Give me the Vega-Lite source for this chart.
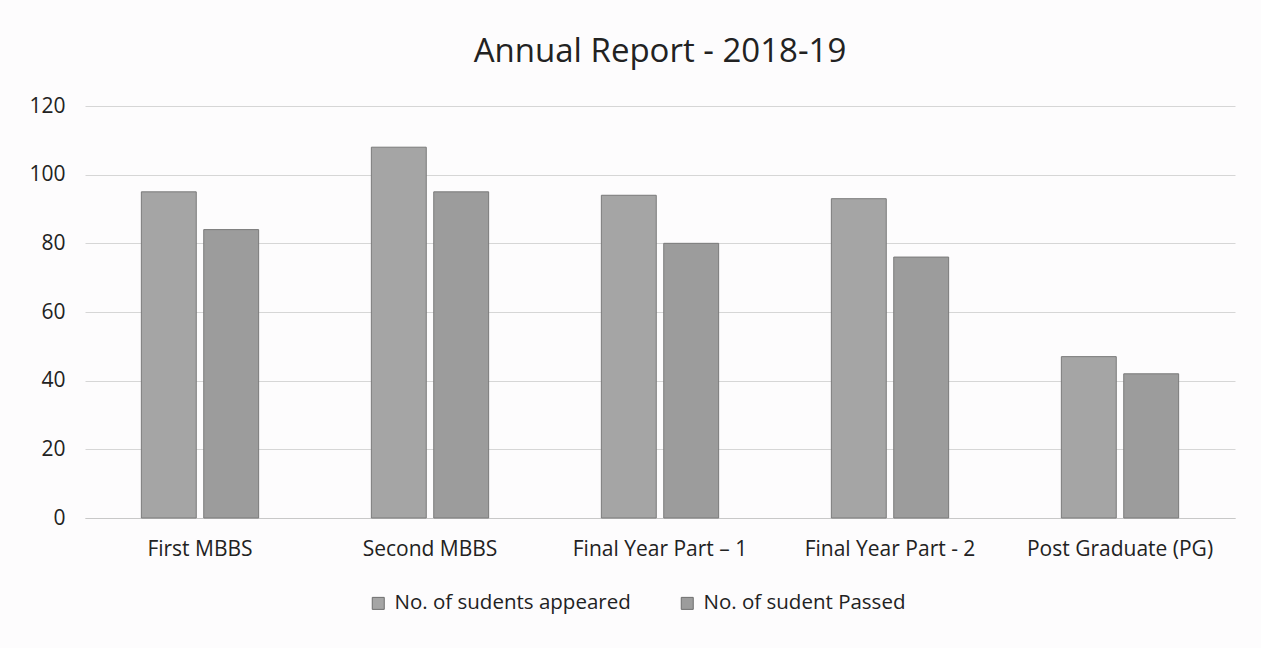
{
  "$schema": "https://vega.github.io/schema/vega-lite/v6.json",
  "width": 1150,
  "height": 412,
  "autosize": {"type": "none"},
  "padding": {"left": 85, "top": 106, "right": 26, "bottom": 130},
  "background": "#fdfcfd",
  "title": {"text": "Annual Report - 2018-19", "font": "Open Sans", "fontSize": 33, "fontWeight": "normal", "color": "#222222", "offset": 26},
  "data": {
    "values": [
      {"course": "First MBBS", "series": "No. of sudents appeared", "value": 95},
      {"course": "First MBBS", "series": "No. of sudent Passed", "value": 84},
      {"course": "Second MBBS", "series": "No. of sudents appeared", "value": 108},
      {"course": "Second MBBS", "series": "No. of sudent Passed", "value": 95},
      {"course": "Final Year Part – 1", "series": "No. of sudents appeared", "value": 94},
      {"course": "Final Year Part – 1", "series": "No. of sudent Passed", "value": 80},
      {"course": "Final Year Part - 2", "series": "No. of sudents appeared", "value": 93},
      {"course": "Final Year Part - 2", "series": "No. of sudent Passed", "value": 76},
      {"course": "Post Graduate (PG)", "series": "No. of sudents appeared", "value": 47},
      {"course": "Post Graduate (PG)", "series": "No. of sudent Passed", "value": 42}
    ]
  },
  "mark": {"type": "bar", "stroke": "#7a7a7a", "strokeWidth": 1},
  "encoding": {
    "x": {
      "field": "course", "type": "nominal", "sort": null,
      "scale": {"paddingInner": 0.49, "paddingOuter": 0.245},
      "axis": {"title": null, "labelAngle": 0, "labelFont": "Open Sans", "labelFontSize": 21, "labelColor": "#222222", "ticks": false, "domainColor": "#c8c8c8", "labelPadding": 20, "labelLimit": 0}
    },
    "xOffset": {"field": "series", "type": "nominal", "sort": ["No. of sudents appeared", "No. of sudent Passed"], "scale": {"paddingInner": 0.12}},
    "y": {
      "field": "value", "type": "quantitative",
      "scale": {"domain": [0, 120]},
      "axis": {"title": null, "values": [0, 20, 40, 60, 80, 100, 120], "labelFont": "Open Sans", "labelFontSize": 21, "labelColor": "#222222", "ticks": false, "domain": false, "gridColor": "#d6d6d6", "labelPadding": 20}
    },
    "color": {
      "field": "series", "type": "nominal",
      "sort": ["No. of sudents appeared", "No. of sudent Passed"],
      "scale": {"range": ["#a5a5a5", "#9c9c9c"]},
      "legend": {"orient": "none", "legendX": 283, "legendY": 487, "title": null, "direction": "horizontal", "symbolType": "square", "symbolSize": 144, "symbolStrokeColor": "#6e6e6e", "symbolStrokeWidth": 1, "labelFont": "Open Sans", "labelFontSize": 20.5, "labelColor": "#222222", "labelLimit": 0, "labelOffset": 6, "columnPadding": 46}
    }
  },
  "config": {"view": {"stroke": null}}
}
